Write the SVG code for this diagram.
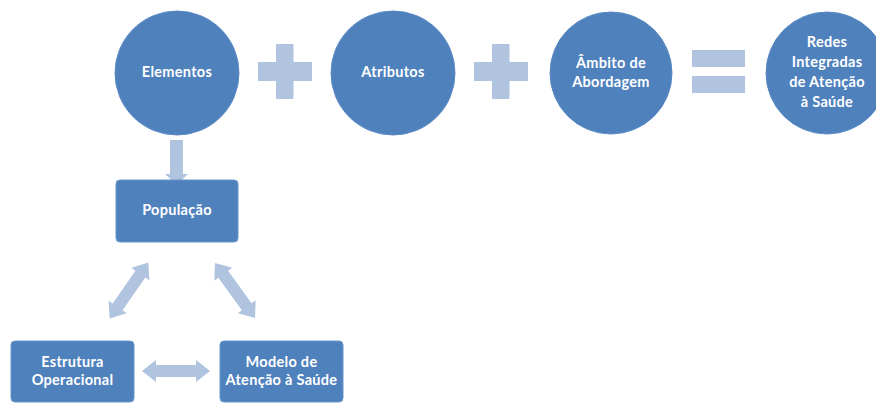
<svg xmlns="http://www.w3.org/2000/svg" width="876" height="403" viewBox="0 0 876 403">
<style>
.c{fill:#4f81bd;stroke:#5a8ac4;stroke-width:1}
.b{fill:#4f81bd;stroke:#6a94c8;stroke-width:1}
.a{fill:#b0c3df}
.t{font-family:Lato,"Open Sans","Liberation Sans",sans-serif;font-weight:bold;font-size:14.5px;letter-spacing:0.3px;fill:#ffffff;text-anchor:middle}
</style>
<defs>
<path id="plus" d="M-9,-27.5 H8.5 V-9.5 H27 V9.5 H8.5 V27.5 H-9 V9.5 H-27 V-9.5 H-9 Z"/>
<path id="dbl" d="M-34,0 L-20,-11 L-20,-6 L20,-6 L20,-11 L34,0 L20,11 L20,6 L-20,6 L-20,11 Z"/>
</defs>
<rect width="876" height="403" fill="#ffffff"/>
<g id="connectors">
<use href="#plus" class="a" transform="translate(285,71.5)"/>
<use href="#plus" class="a" transform="translate(501,71.5)"/>
<g id="equals" class="a">
<rect x="692" y="50" width="53" height="17"/>
<rect x="692" y="76" width="53" height="17"/>
</g>
<path class="a" d="M170,140 H183 V174 H188 L176.5,185 L165,174 H170 Z"/>
<use href="#dbl" class="a" transform="translate(129,290.5) rotate(124.6)"/>
<use href="#dbl" class="a" transform="translate(235,290.5) rotate(54)"/>
<use href="#dbl" class="a" transform="translate(176,371)"/>
</g>
<g id="elementos">
<circle class="c" cx="177" cy="73" r="62"/>
<text class="t" x="177" y="77">Elementos</text>
</g>
<g id="atributos">
<circle class="c" cx="393" cy="73" r="62"/>
<text class="t" x="393" y="77">Atributos</text>
</g>
<g id="ambito">
<circle class="c" cx="611" cy="73" r="61"/>
<text class="t" x="611" y="68">Âmbito de</text>
<text class="t" x="611" y="87">Abordagem</text>
</g>
<g id="redes">
<circle class="c" cx="827" cy="73" r="61"/>
<text class="t" x="827" y="47">Redes</text>
<text class="t" x="827" y="67">Integradas</text>
<text class="t" x="827" y="87">de Atenção</text>
<text class="t" x="827" y="107">à Saúde</text>
</g>
<g id="populacao">
<rect class="b" x="116" y="180" width="122" height="62" rx="4"/>
<text class="t" x="177" y="215">População</text>
</g>
<g id="estrutura">
<rect class="b" x="11" y="341" width="123" height="61" rx="4"/>
<text class="t" x="72.5" y="367">Estrutura</text>
<text class="t" x="72.5" y="385">Operacional</text>
</g>
<g id="modelo">
<rect class="b" x="220" y="341" width="123" height="61" rx="4"/>
<text class="t" x="281.5" y="367">Modelo de</text>
<text class="t" x="281.5" y="385">Atenção à Saúde</text>
</g>
</svg>
